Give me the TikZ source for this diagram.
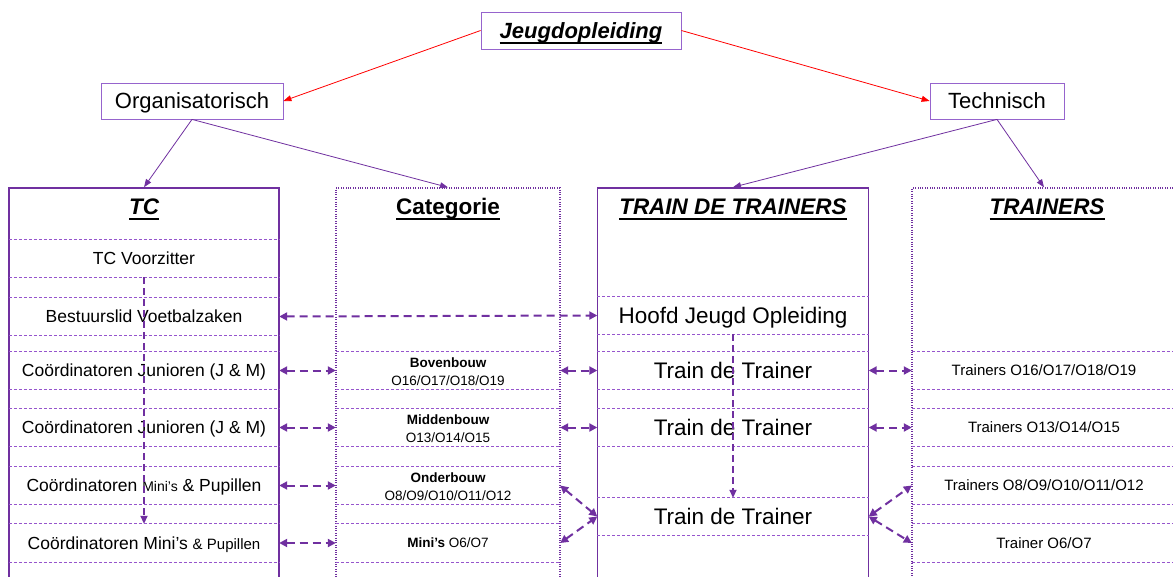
\documentclass[tikz,border=0pt]{standalone}
\usepackage{fontspec}
\setmainfont{Liberation Sans}
\usetikzlibrary{arrows.meta}
\definecolor{purp}{RGB}{112,48,160}
\definecolor{lpurp}{RGB}{150,100,205}
\definecolor{rowc}{RGB}{150,85,205}
\newcommand\fsz[1]{\fontsize{#1}{#1}\selectfont}
\newcommand\ulx[1]{\setbox0\hbox{#1}\rlap{\rule[-5.8pt]{\wd0}{2pt}}\box0}
\tikzset{
  topbox/.style={draw=lpurp, line width=0.8pt, inner sep=0pt, font=\fsz{22}, text height=15.8pt, text depth=0pt},
  colsolid/.style={draw=purp, line width=1.6pt, inner sep=0pt, minimum height=412pt},
  coldot/.style={draw=purp, line width=1.3pt, dash pattern=on 0.8pt off 1.6pt, inner sep=0pt, minimum height=412pt},
  cell/.style={inner sep=0pt, minimum height=37pt, text height=12.5pt, text depth=0pt, font=\fsz{17.5}},
  catcell/.style={inner sep=0pt, minimum height=37pt, align=center, font=\fontsize{13.5}{18}\selectfont, text height=30.4pt, text depth=0pt},
  catone/.style={inner sep=0pt, minimum height=38pt, font=\fsz{13.5}, text height=9.7pt, text depth=0pt},
  dcell/.style={inner sep=0pt, minimum height=37pt, text height=16.1pt, text depth=0pt, font=\fsz{22.5}},
  rcell/.style={inner sep=0pt, minimum height=37pt, text height=10.7pt, text depth=0pt, font=\fsz{15}},
  rowline/.style={draw=rowc, line width=0.8pt, dash pattern=on 3pt off 2pt},
  harrow/.style={purp, line width=2pt, dash pattern=on 8pt off 5pt, {Triangle[length=8pt,width=8pt]}-{Triangle[length=8pt,width=8pt]}},
  varrow/.style={purp, line width=1.8pt, dash pattern=on 7pt off 4pt, -{Triangle[length=8pt,width=7pt]}},
  redarrow/.style={red, line width=0.8pt, -{Triangle[length=8pt,width=6pt]}},
  parrow/.style={purp, line width=0.8pt, -{Triangle[length=8pt,width=6pt]}},
  coltitle/.style={anchor=base, inner sep=0pt, font=\fsz{22.5}}
}
\begin{document}
\begin{tikzpicture}[x=1pt,y=-1pt]
\clip (0,0) rectangle (1173,576);
\fill[white] (0,0) rectangle (1173,576);
% top level
\node[topbox, minimum width=200pt, minimum height=37pt] (jeugd) at (581,30.5) {\ulx{\bfseries\itshape Jeugdopleiding}};
\node[topbox, minimum width=182pt, minimum height=36pt] (org) at (192,101) {Organisatorisch};
\node[topbox, minimum width=134pt, minimum height=36pt] (tech) at (997,101) {Technisch};
% columns
\node[colsolid, minimum width=270pt] (tcol) at (144,394) {};
\node[coldot, minimum width=224pt] (ccol) at (448,394) {};
\node[colsolid, minimum width=271pt] (dcol) at (733,394) {};
\node[coldot, minimum width=264pt] (rcol) at (1044,394) {};
% titles
\node[coltitle] (tctitle) at (144,214.5) {\ulx{\bfseries\itshape TC}};
\node[coltitle] (ctitle) at (448,214.5) {\ulx{\bfseries Categorie}};
\node[coltitle] (dtitle) at (733,214.5) {\ulx{\bfseries\itshape TRAIN DE TRAINERS}};
\node[coltitle] (rtitle) at (1047,214.5) {\ulx{\bfseries\itshape TRAINERS}};
% TC cells
\node[cell, minimum width=270pt] (tcv) at (144,258.5) {TC Voorzitter};
\node[cell, minimum width=270pt] (bvz) at (144,316.5) {Bestuurslid Voetbalzaken};
\node[cell, minimum width=270pt] (cj1) at (144,370.5) {Coördinatoren Junioren (J \& M)};
\node[cell, minimum width=270pt] (cj2) at (144,427.5) {Coördinatoren Junioren (J \& M)};
\node[cell, minimum width=270pt] (cm1) at (144,485.5) {Coördinatoren {\fsz{14}Mini’s} \& Pupillen};
\node[cell, minimum width=270pt, minimum height=38pt] (cm2) at (144,543) {Coördinatoren Mini’s {\fsz{15}\& Pupillen}};
% Categorie cells
\node[catcell, minimum width=224pt] (cb1) at (448,370.5) {{\bfseries Bovenbouw}\\O16/O17/O18/O19};
\node[catcell, minimum width=224pt] (cb2) at (448,427.5) {{\bfseries Middenbouw}\\O13/O14/O15};
\node[catcell, minimum width=224pt] (cb3) at (448,485.5) {{\bfseries Onderbouw}\\O8/O9/O10/O11/O12};
\node[catone, minimum width=224pt] (cb4) at (448,543) {{\bfseries Mini’s} O6/O7};
% Train de trainers cells
\node[dcell, minimum width=271pt] (dh) at (733,315.5) {Hoofd Jeugd Opleiding};
\node[dcell, minimum width=271pt] (d1) at (733,370.5) {Train de Trainer};
\node[dcell, minimum width=271pt] (d2) at (733,427.5) {Train de Trainer};
\node[dcell, minimum width=271pt] (d3) at (733,516.5) {Train de Trainer};
% Trainers cells
\node[rcell, minimum width=264pt] (r1) at (1044,370.5) {Trainers O16/O17/O18/O19};
\node[rcell, minimum width=264pt] (r2) at (1044,427.5) {Trainers O13/O14/O15};
\node[rcell, minimum width=264pt] (r3) at (1044,485.5) {Trainers O8/O9/O10/O11/O12};
\node[rcell, minimum width=264pt, minimum height=38pt] (r4) at (1044,543) {Trainer O6/O7};
% row lines
\foreach \c in {tcv,bvz,cj1,cj2,cm1,cm2,cb1,cb2,cb3,cb4,dh,d1,d2,d3,r1,r2,r3,r4}
  \draw[rowline] (\c.north west) -- (\c.north east) (\c.south west) -- (\c.south east);
% hierarchy arrows
\draw[redarrow] (jeugd.west) -- (org.east);
\draw[redarrow] (jeugd.east) -- (tech.west);
\draw[parrow] (org.south) -- (tcol.north);
\draw[parrow] (org.south) -- (ccol.north);
\draw[parrow] (tech.south) -- (dcol.north);
\draw[parrow] (tech.south) -- (rcol.north);
% horizontal links
\draw[harrow] (bvz.east) -- (dh.west);
\draw[harrow] (cj1.east) -- (cb1.west);
\draw[harrow] (cb1.east) -- (d1.west);
\draw[harrow] (d1.east) -- (r1.west);
\draw[harrow] (cj2.east) -- (cb2.west);
\draw[harrow] (cb2.east) -- (d2.west);
\draw[harrow] (d2.east) -- (r2.west);
\draw[harrow] (cm1.east) -- (cb3.west);
\draw[harrow] (cm2.east) -- (cb4.west);
\draw[harrow] (cb3.east) -- (d3.west);
\draw[harrow] (cb4.east) -- (d3.west);
\draw[harrow] (d3.east) -- (r3.west);
\draw[harrow] (d3.east) -- (r4.west);
% vertical links
\draw[varrow] (tcv.south) -- (cm2.north);
\draw[varrow] (dh.south) -- (d3.north);
\end{tikzpicture}
\end{document}
